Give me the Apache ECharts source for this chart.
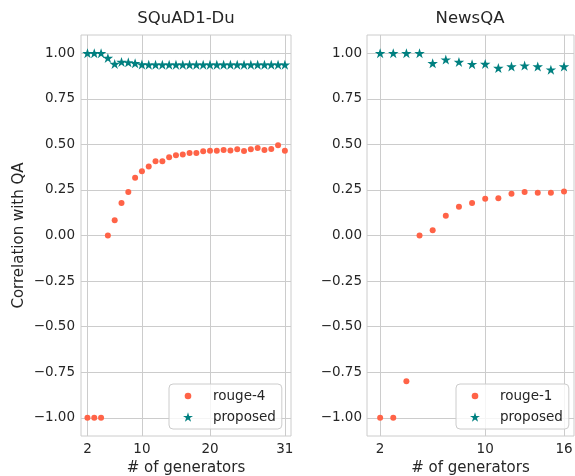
<!DOCTYPE html>
<html>
<head>
<meta charset="utf-8">
<script src="https://cdn.jsdelivr.net/npm/echarts@6/dist/echarts.min.js"></script>
<style>
  html, body { margin: 0; padding: 0; background: #fff; }
  #chart { width: 575px; height: 476px; }
</style>
</head>
<body>
<div id="chart"></div>
<script>
// SQuAD1-Du panel
const squadX = [2,3,4,5,6,7,8,9,10,11,12,13,14,15,16,17,18,19,20,21,22,23,24,25,26,27,28,29,30,31];
const squadRouge4 = [-1.00,-1.00,-1.00,0.00,0.084,0.178,0.238,0.317,0.353,0.379,0.408,0.407,0.429,0.440,0.445,0.452,
  0.452,0.462,0.465,0.465,0.469,0.467,0.473,0.463,0.473,0.480,0.469,0.474,0.495,0.465];
const squadProposed = [1.00,1.00,1.00,0.974,0.941,0.952,0.950,0.945,0.938,0.937,0.937,0.937,0.937,0.937,0.937,0.937,
  0.937,0.937,0.937,0.937,0.937,0.937,0.937,0.937,0.937,0.937,0.937,0.937,0.937,0.937];

// NewsQA panel
const newsX = [2,3,4,5,6,7,8,9,10,11,12,13,14,15,16];
const newsRouge1 = [-1.00,-1.00,-0.80,0.00,0.029,0.108,0.158,0.178,0.201,0.205,0.229,0.238,0.234,0.234,0.242];
const newsProposed = [1.00,1.00,1.00,1.00,0.945,0.965,0.952,0.940,0.941,0.919,0.927,0.932,0.927,0.910,0.927];

const squadTicks = [2, 10, 20, 31];
const newsTicks = [2, 10, 16];
const yTicks = [-1, -0.75, -0.5, -0.25, 0, 0.25, 0.5, 0.75, 1];

const textColor = '#262626';
const gridColor = '#cccccc';
const rougeColor = '#ff6347';
const starColor = '#008080';
const star = 'path://M0,-100L22.45,-30.9L95.1,-30.9L36.3,11.8L58.8,80.9L0,38.2L-58.8,80.9L-36.3,11.8L-95.1,-30.9L-22.45,-30.9Z';
// small dot inside a bigger box, for the legend
const legendDot = 'path://M0,0M90,90M15,45A30,30,0,1,1,75,45A30,30,0,1,1,15,45Z';
const font = 'DejaVu Sans';

function pairs(xs, ys){
  return xs.map((x, i) => [x, ys[i]]);
}

function xAxisFor(gridIndex, min, max, ticks){
  return {
    gridIndex, type: 'value', min, max,
    name: '# of generators', nameLocation: 'middle', nameGap: 23,
    nameTextStyle: { color: textColor, fontSize: 15, fontFamily: font },
    axisLine: { show: false },
    axisTick: { show: false, customValues: ticks },
    axisLabel: { customValues: ticks, color: textColor, fontSize: 13.5, fontFamily: font, margin: 6 },
    splitLine: { show: true, lineStyle: { color: gridColor, width: 1 } }
  };
}

function yAxisFor(gridIndex, withName, margin){
  return {
    gridIndex, type: 'value', min: -1.1, max: 1.1,
    name: withName ? 'Correlation with QA' : '', nameLocation: 'middle', nameGap: 54,
    nameTextStyle: { color: textColor, fontSize: 15, fontFamily: font },
    axisLine: { show: false },
    axisTick: { show: false, customValues: yTicks },
    axisLabel: {
      customValues: yTicks, color: textColor, fontSize: 13.5, fontFamily: font, margin,
      formatter: v => v.toFixed(2).replace('-', '\u2212')
    },
    splitLine: { show: true, lineStyle: { color: gridColor, width: 1 } }
  };
}

function legendFor(left, names){
  return {
    data: names.map((n, i) => ({ name: n, icon: i === 0 ? legendDot : star })),
    orient: 'vertical', left, top: 384,
    itemWidth: 10, itemHeight: 10, itemGap: 5,
    padding: [4, 6, 4, 14],
    backgroundColor: 'rgba(255,255,255,0.8)',
    borderColor: gridColor, borderWidth: 1, borderRadius: 4,
    textStyle: { color: textColor, fontSize: 13.5, fontFamily: font, padding: [0, 0, 0, 15], lineHeight: 16 }
  };
}

const chart = echarts.init(document.getElementById('chart'), null, { renderer: 'canvas' });

chart.setOption({
  backgroundColor: '#fff',
  animation: false,
  title: [
    { text: 'SQuAD1-Du', left: 186, top: 10, textAlign: 'center', padding: 0,
      textStyle: { color: textColor, fontSize: 16.5, fontWeight: 'normal', fontFamily: font } },
    { text: 'NewsQA', left: 470, top: 10, textAlign: 'center', padding: 0,
      textStyle: { color: textColor, fontSize: 16.5, fontWeight: 'normal', fontFamily: font } }
  ],
  grid: [
    { left: 81, top: 35, width: 210, height: 401, show: true, borderColor: gridColor, borderWidth: 1,
      backgroundColor: '#fff', outerBoundsMode: 'none', containLabel: false },
    { left: 367, top: 35, width: 207, height: 401, show: true, borderColor: gridColor, borderWidth: 1,
      backgroundColor: '#fff', outerBoundsMode: 'none', containLabel: false }
  ],
  xAxis: [
    xAxisFor(0, 1.05, 31.9, squadTicks),
    xAxisFor(1, 1.0, 16.76, newsTicks)
  ],
  yAxis: [
    yAxisFor(0, true, 6),
    yAxisFor(1, false, 5)
  ],
  legend: [
    legendFor(169, ['rouge-4', 'proposed']),
    legendFor(456, ['rouge-1', 'proposed'])
  ],
  series: [
    { name: 'rouge-4', type: 'scatter', xAxisIndex: 0, yAxisIndex: 0, data: pairs(squadX, squadRouge4),
      symbol: 'circle', symbolSize: 6, itemStyle: { color: rougeColor, opacity: 1 } },
    { name: 'proposed', type: 'scatter', xAxisIndex: 0, yAxisIndex: 0, data: pairs(squadX, squadProposed),
      symbol: star, symbolSize: [10.5, 10], itemStyle: { color: starColor, opacity: 1 } },
    { name: 'rouge-1', type: 'scatter', xAxisIndex: 1, yAxisIndex: 1, data: pairs(newsX, newsRouge1),
      symbol: 'circle', symbolSize: 6, itemStyle: { color: rougeColor, opacity: 1 } },
    { name: 'proposed', type: 'scatter', xAxisIndex: 1, yAxisIndex: 1, data: pairs(newsX, newsProposed),
      symbol: star, symbolSize: [10.5, 10], itemStyle: { color: starColor, opacity: 1 } }
  ]
});
</script>
</body>
</html>
